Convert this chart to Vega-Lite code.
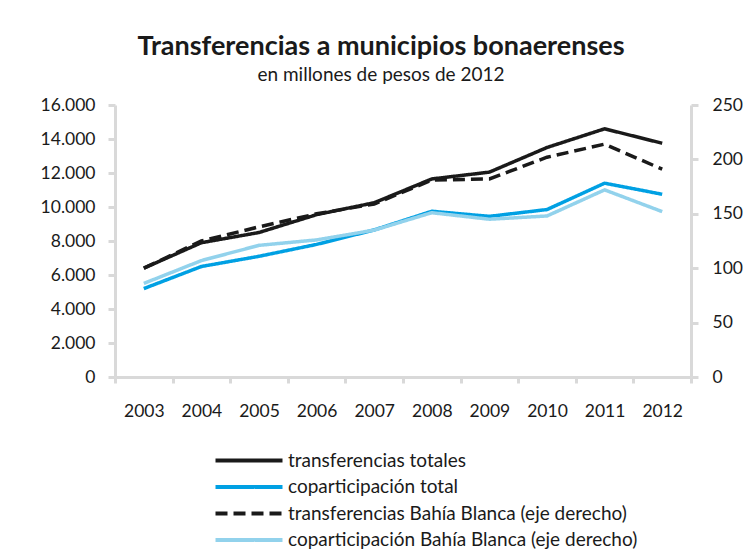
{
  "$schema": "https://vega.github.io/schema/vega-lite/v6.json",
  "autosize": {"type": "none"},
  "width": 576,
  "height": 272,
  "padding": {"left": 115, "top": 105, "right": 61, "bottom": 183},
  "background": "white",
  "title": {
    "text": "Transferencias a municipios  bonaerenses",
    "subtitle": "en millones de pesos de 2012",
    "anchor": "middle",
    "dx": -22,
    "offset": 10,
    "font": "Lato",
    "fontSize": 27,
    "fontWeight": "bold",
    "color": "#1a1a1a",
    "subtitleFont": "Lato",
    "subtitleFontSize": 19,
    "subtitleColor": "#1a1a1a",
    "subtitlePadding": 5
  },
  "config": {
    "view": {"stroke": null},
    "axis": {
      "labelFont": "Lato",
      "labelFontSize": 17.5,
      "labelColor": "#1a1a1a",
      "domainColor": "#d9d9d9",
      "domainWidth": 3,
      "tickColor": "#d9d9d9",
      "tickWidth": 3,
      "tickSize": 7,
      "grid": false,
      "title": null
    },
    "legend": {
      "labelFont": "Lato",
      "labelFontSize": 19,
      "labelColor": "#1a1a1a",
      "labelLimit": 0,
      "title": null
    }
  },
  "data": {
    "values": [
      {"anio": "2003", "serie": "transferencias totales", "valor": 6400},
      {"anio": "2004", "serie": "transferencias totales", "valor": 7900},
      {"anio": "2005", "serie": "transferencias totales", "valor": 8500},
      {"anio": "2006", "serie": "transferencias totales", "valor": 9550},
      {"anio": "2007", "serie": "transferencias totales", "valor": 10250},
      {"anio": "2008", "serie": "transferencias totales", "valor": 11650},
      {"anio": "2009", "serie": "transferencias totales", "valor": 12050},
      {"anio": "2010", "serie": "transferencias totales", "valor": 13500},
      {"anio": "2011", "serie": "transferencias totales", "valor": 14600},
      {"anio": "2012", "serie": "transferencias totales", "valor": 13750},
      {"anio": "2003", "serie": "coparticipación total", "valor": 5200},
      {"anio": "2004", "serie": "coparticipación total", "valor": 6500},
      {"anio": "2005", "serie": "coparticipación total", "valor": 7100},
      {"anio": "2006", "serie": "coparticipación total", "valor": 7800},
      {"anio": "2007", "serie": "coparticipación total", "valor": 8650},
      {"anio": "2008", "serie": "coparticipación total", "valor": 9750},
      {"anio": "2009", "serie": "coparticipación total", "valor": 9450},
      {"anio": "2010", "serie": "coparticipación total", "valor": 9850},
      {"anio": "2011", "serie": "coparticipación total", "valor": 11400},
      {"anio": "2012", "serie": "coparticipación total", "valor": 10750},
      {"anio": "2003", "serie": "transferencias Bahía Blanca (eje derecho)", "valor": 100},
      {"anio": "2004", "serie": "transferencias Bahía Blanca (eje derecho)", "valor": 125},
      {"anio": "2005", "serie": "transferencias Bahía Blanca (eje derecho)", "valor": 138},
      {"anio": "2006", "serie": "transferencias Bahía Blanca (eje derecho)", "valor": 150},
      {"anio": "2007", "serie": "transferencias Bahía Blanca (eje derecho)", "valor": 159},
      {"anio": "2008", "serie": "transferencias Bahía Blanca (eje derecho)", "valor": 181},
      {"anio": "2009", "serie": "transferencias Bahía Blanca (eje derecho)", "valor": 182},
      {"anio": "2010", "serie": "transferencias Bahía Blanca (eje derecho)", "valor": 202},
      {"anio": "2011", "serie": "transferencias Bahía Blanca (eje derecho)", "valor": 214},
      {"anio": "2012", "serie": "transferencias Bahía Blanca (eje derecho)", "valor": 191},
      {"anio": "2003", "serie": "coparticipación Bahía Blanca (eje derecho)", "valor": 86},
      {"anio": "2004", "serie": "coparticipación Bahía Blanca (eje derecho)", "valor": 107},
      {"anio": "2005", "serie": "coparticipación Bahía Blanca (eje derecho)", "valor": 121},
      {"anio": "2006", "serie": "coparticipación Bahía Blanca (eje derecho)", "valor": 126},
      {"anio": "2007", "serie": "coparticipación Bahía Blanca (eje derecho)", "valor": 135},
      {"anio": "2008", "serie": "coparticipación Bahía Blanca (eje derecho)", "valor": 151},
      {"anio": "2009", "serie": "coparticipación Bahía Blanca (eje derecho)", "valor": 145},
      {"anio": "2010", "serie": "coparticipación Bahía Blanca (eje derecho)", "valor": 148},
      {"anio": "2011", "serie": "coparticipación Bahía Blanca (eje derecho)", "valor": 172},
      {"anio": "2012", "serie": "coparticipación Bahía Blanca (eje derecho)", "valor": 152}
    ]
  },
  "encoding": {
    "x": {
      "field": "anio",
      "type": "ordinal",
      "bandPosition": 0.5,
      "scale": {"type": "band", "paddingInner": 0, "paddingOuter": 0},
      "axis": {"labelAngle": 0, "tickBand": "extent", "labelPadding": 19, "tickSize": 6}
    },
    "color": {
      "field": "serie",
      "type": "nominal",
      "scale": {
        "domain": ["transferencias totales", "coparticipación total", "transferencias Bahía Blanca (eje derecho)", "coparticipación Bahía Blanca (eje derecho)"],
        "range": ["#1a1a1a", "#00a0e3", "#1a1a1a", "#92d2ec"]
      },
      "legend": {
        "orient": "none",
        "legendX": 124.5,
        "legendY": 346,
        "padding": 0,
        "symbolType": "M-16.75,0H16.75",
        "symbolSize": 16,
        "symbolStrokeWidth": 4,
        "labelOffset": 29.5,
        "rowPadding": 6.5
      }
    },
    "strokeDash": {
      "field": "serie",
      "type": "nominal",
      "scale": {
        "domain": ["transferencias totales", "coparticipación total", "transferencias Bahía Blanca (eje derecho)", "coparticipación Bahía Blanca (eje derecho)"],
        "range": [[1, 0], [1, 0], [12, 6], [1, 0]]
      },
      "legend": {
        "orient": "none",
        "legendX": 124.5,
        "legendY": 346,
        "padding": 0,
        "symbolType": "M-16.75,0H16.75",
        "symbolSize": 16,
        "symbolStrokeWidth": 4,
        "labelOffset": 29.5,
        "rowPadding": 6.5
      }
    }
  },
  "layer": [
    {
      "transform": [{"filter": "indexof(datum.serie, 'Bahía') < 0"}],
      "mark": {"type": "line", "strokeWidth": 3.5},
      "encoding": {
        "y": {
          "field": "valor",
          "type": "quantitative",
          "scale": {"domain": [0, 16000], "nice": false},
          "axis": {
            "orient": "left",
            "values": [0, 2000, 4000, 6000, 8000, 10000, 12000, 14000, 16000],
            "labelExpr": "replace(format(datum.value, ','), ',', '.')",
            "labelPadding": 13
          }
        }
      }
    },
    {
      "transform": [{"filter": "indexof(datum.serie, 'Bahía') >= 0"}],
      "mark": {"type": "line", "strokeWidth": 3.5},
      "encoding": {
        "y": {
          "field": "valor",
          "type": "quantitative",
          "scale": {"domain": [0, 250], "nice": false},
          "axis": {
            "orient": "right",
            "values": [0, 50, 100, 150, 200, 250],
            "labelPadding": 14
          }
        }
      }
    }
  ],
  "resolve": {"scale": {"y": "independent"}}
}
